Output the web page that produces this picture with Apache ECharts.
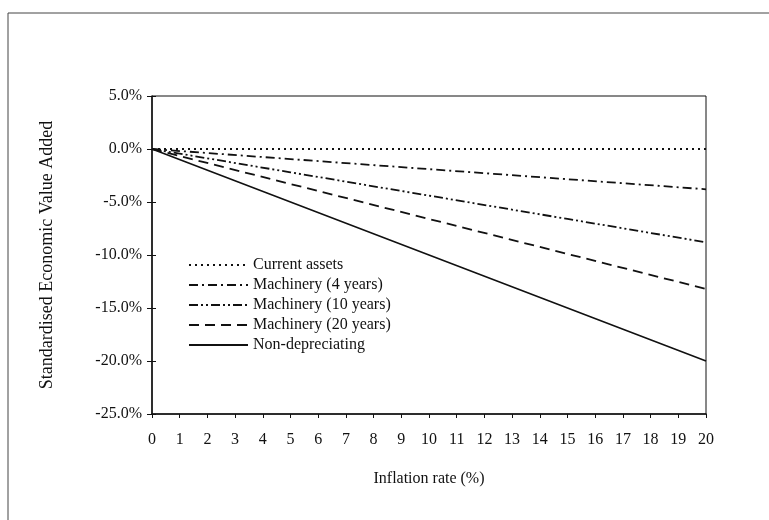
<!DOCTYPE html>
<html>
<head>
<meta charset="utf-8">
<script src="https://cdn.jsdelivr.net/npm/echarts@6/dist/echarts.min.js"></script>
<style>
  html, body { margin: 0; padding: 0; background: #fff; }
  #chart { width: 769px; height: 520px; }
</style>
</head>
<body>
<div id="chart"></div>
<script>
const FONT = "Liberation Serif";
const INK = "#111";

const inflation = [0, 5, 10, 15, 20];

const currentAssets = [0, 0, 0, 0, 0];
const machinery4 = [0, -0.95, -1.9, -2.85, -3.8];
const machinery10 = [0, -2.2, -4.4, -6.6, -8.8];
const machinery20 = [0, -3.3, -6.6, -9.9, -13.2];
const nonDepreciating = [0, -5, -10, -15, -20];

const seriesNames = [
  "Current assets",
  "Machinery (4 years)",
  "Machinery (10 years)",
  "Machinery (20 years)",
  "Non-depreciating",
];
const seriesValues = [currentAssets, machinery4, machinery10, machinery20, nonDepreciating];
const dashes = [[2, 4], [9, 4, 2, 4], [9, 3, 2, 3, 2, 3], [10, 6], "solid"];

const chart = echarts.init(document.getElementById("chart"), null, { renderer: "canvas" });

chart.setOption({
  animation: false,
  textStyle: { fontFamily: FONT, color: INK },
  graphic: [
    {
      type: "rect",
      shape: { x: 8, y: 13, width: 800, height: 600 },
      style: { fill: "none", stroke: "#444", lineWidth: 1 },
      silent: true,
    },
  ],
  grid: {
    left: 152, right: 63, top: 96, bottom: 106,
    show: true, borderColor: INK, borderWidth: 1,
  },
  legend: {
    orient: "vertical",
    left: 183, top: 252,
    itemWidth: 59, itemHeight: 14, itemGap: 4,
    itemStyle: { color: "rgba(0,0,0,0)", borderWidth: 0 },
    textStyle: { fontFamily: FONT, fontSize: 16, color: INK },
    data: seriesNames,
  },
  xAxis: {
    type: "value",
    min: 0, max: 20, interval: 1,
    name: "Inflation rate (%)",
    nameLocation: "middle",
    nameGap: 57,
    nameTextStyle: { fontFamily: FONT, fontSize: 16, color: INK },
    axisLine: { onZero: false, lineStyle: { color: INK, width: 1.5 } },
    axisTick: { inside: false, length: 4, lineStyle: { color: INK } },
    axisLabel: { fontFamily: FONT, fontSize: 16, color: INK, margin: 18 },
    splitLine: { show: false },
  },
  yAxis: [
    {
      type: "value",
      min: -25, max: 5, interval: 5,
      name: "Standardised Economic Value Added",
      nameLocation: "middle",
      nameGap: 96,
      nameTextStyle: { fontFamily: FONT, fontSize: 18, color: INK },
      axisLine: { show: true, lineStyle: { color: INK, width: 1.5 } },
      axisTick: { show: true, length: 5, lineStyle: { color: INK } },
      axisLabel: {
        fontFamily: FONT, fontSize: 16, color: INK, margin: 10,
        formatter: (v) => v.toFixed(1) + "%",
      },
      splitLine: { show: false },
    },
    {
      type: "value",
      position: "left",
      min: -25, max: 5, interval: 5,
      axisLine: { show: false },
      axisTick: { show: true, inside: true, length: 4, lineStyle: { color: INK } },
      axisLabel: { show: false },
      splitLine: { show: false },
    },
  ],
  series: seriesNames.map((name, i) => ({
    name,
    type: "line",
    symbol: "none",
    data: inflation.map((x, j) => [x, seriesValues[i][j]]),
    lineStyle: { color: INK, width: i === 4 ? 1.6 : 1.8, type: dashes[i] },
    itemStyle: { color: INK },
  })),
});
</script>
</body>
</html>
